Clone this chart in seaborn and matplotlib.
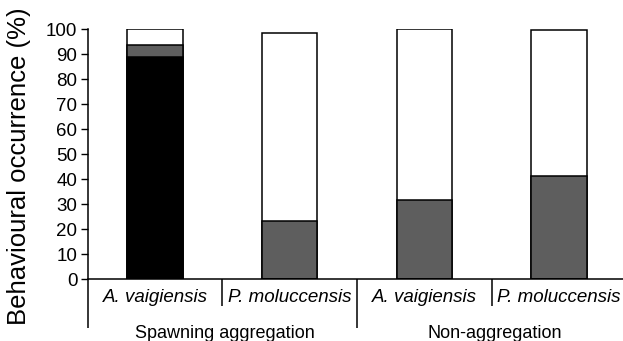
import matplotlib
matplotlib.use("Agg")
import matplotlib.pyplot as plt
import matplotlib.transforms as mtransforms
import seaborn as sns
import pandas as pd

# ---- data ----
species = ["A. vaigiensis", "P. moluccensis", "A. vaigiensis ", "P. moluccensis "]
species_labels = ["A. vaigiensis", "P. moluccensis", "A. vaigiensis", "P. moluccensis"]
groups = ["Spawning aggregation", "Non-aggregation"]
black_vals = [88.8, 0.0, 0.0, 0.0]
gray_vals = [4.9, 23.2, 31.6, 41.4]
white_vals = [6.3, 75.4, 68.4, 58.2]
yticks = [0, 10, 20, 30, 40, 50, 60, 70, 80, 90, 100]

sns.set_theme(style="white")
plt.rcParams["font.family"] = ["Liberation Sans", "DejaVu Sans"]

df = pd.DataFrame({
    "species": species,
    "black": black_vals,
    "gray": gray_vals,
    "white": white_vals,
})
df["lvl_black"] = df["black"]
df["lvl_gray"] = df["black"] + df["gray"]
df["lvl_total"] = df["black"] + df["gray"] + df["white"]

fig = plt.figure(figsize=(6.23, 3.41), dpi=100)
ax = fig.add_axes([87.7 / 623, (341 - 279) / 341, 4 * 134.67 / 623, 249.7 / 341])

common = dict(data=df, x="species", order=species, width=0.41,
              edgecolor="black", linewidth=1.1, ax=ax, errorbar=None)
sns.barplot(y="lvl_total", color="white", **common)
sns.barplot(y="lvl_gray", color="#5e5e5e", **common)
sns.barplot(y="lvl_black", color="black", **common)

ax.set_xlim(-0.5, 3.5)
ax.set_ylim(0, 100)
ax.set_yticks(yticks)
ax.set_yticklabels([str(v) for v in yticks], fontsize=13.5, color="black")
ax.set_xticks(range(len(species)))
ax.set_xticklabels(species_labels, fontsize=13.5, fontstyle="italic", color="black")
ax.tick_params(axis="y", direction="out", length=5, width=1.0, pad=2.5, left=True, color="black")
ax.tick_params(axis="x", length=0, pad=7)
ax.set_xlabel("")
ax.set_ylabel("")

for s in ["top", "right"]:
    ax.spines[s].set_visible(False)
for s in ["left", "bottom"]:
    ax.spines[s].set_color("black")
    ax.spines[s].set_linewidth(1.1)

trans = mtransforms.blended_transform_factory(ax.transData, ax.transAxes)
# separators below the axis
for xpos, depth in [(-0.5, -0.196), (0.5, -0.108), (1.5, -0.196), (2.5, -0.108)]:
    ax.plot([xpos, xpos], [0, depth], color="black", lw=1.1, transform=trans,
            clip_on=False, solid_capstyle="butt")

for gi, g in enumerate(groups):
    ax.text(gi * 2 + 0.52, -0.236, g, transform=trans, ha="center", va="baseline",
            fontsize=13, color="black")

fig.text(19 / 623, (341 - 166) / 341, "Behavioural occurrence (%)", rotation=90,
         ha="center", va="center", fontsize=18.5, color="black")

fig.savefig("out.png", dpi=100)
